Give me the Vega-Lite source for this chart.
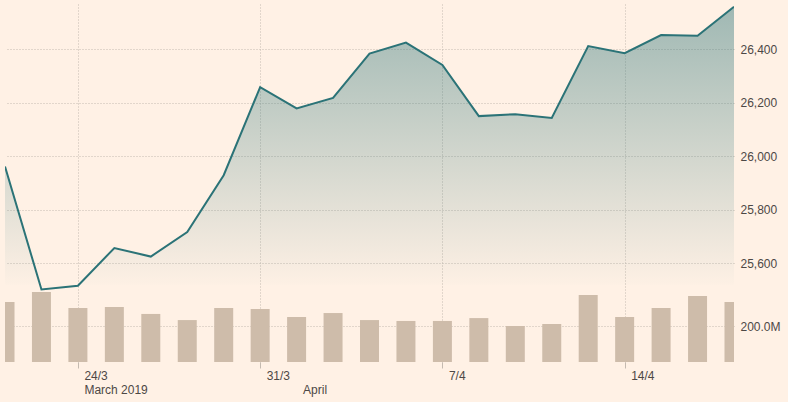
{
  "$schema": "https://vega.github.io/schema/vega-lite/v6.json",
  "width": 729,
  "height": 358,
  "autosize": {"type": "none"},
  "padding": {"left": 5, "top": 4, "right": 54, "bottom": 40},
  "background": "#fff1e5",
  "config": {
    "view": {"stroke": null},
    "axis": {
      "labelFont": "Liberation Sans",
      "labelFontSize": 12,
      "labelColor": "#4d4845",
      "gridColor": "#c4bab0",
      "gridDash": [1, 2],
      "gridWidth": 1,
      "domain": false,
      "title": null
    }
  },
  "data": {
    "values": [
      {"date": "2019-03-21", "close": 25962, "volume": 333000000},
      {"date": "2019-03-22", "close": 25502, "volume": 389000000},
      {"date": "2019-03-25", "close": 25516, "volume": 300000000},
      {"date": "2019-03-26", "close": 25657, "volume": 306000000},
      {"date": "2019-03-27", "close": 25625, "volume": 267000000},
      {"date": "2019-03-28", "close": 25717, "volume": 233000000},
      {"date": "2019-03-29", "close": 25929, "volume": 300000000},
      {"date": "2019-04-01", "close": 26258, "volume": 294000000},
      {"date": "2019-04-02", "close": 26179, "volume": 250000000},
      {"date": "2019-04-03", "close": 26218, "volume": 272000000},
      {"date": "2019-04-04", "close": 26384, "volume": 233000000},
      {"date": "2019-04-05", "close": 26425, "volume": 228000000},
      {"date": "2019-04-08", "close": 26341, "volume": 228000000},
      {"date": "2019-04-09", "close": 26150, "volume": 244000000},
      {"date": "2019-04-10", "close": 26157, "volume": 200000000},
      {"date": "2019-04-11", "close": 26143, "volume": 211000000},
      {"date": "2019-04-12", "close": 26412, "volume": 372000000},
      {"date": "2019-04-15", "close": 26385, "volume": 250000000},
      {"date": "2019-04-16", "close": 26453, "volume": 300000000},
      {"date": "2019-04-17", "close": 26450, "volume": 367000000},
      {"date": "2019-04-18", "close": 26559, "volume": 333000000}
    ]
  },
  "encoding": {
    "x": {
      "field": "date",
      "type": "ordinal",
      "scale": {"type": "point", "padding": 0},
      "axis": {
        "values": ["2019-03-25", "2019-04-01", "2019-04-02", "2019-04-08", "2019-04-15"],
        "labelExpr": "datum.value == '2019-03-25' ? ['24/3', 'March 2019'] : datum.value == '2019-04-01' ? ['31/3', ''] : datum.value == '2019-04-02' ? ['', 'April'] : datum.value == '2019-04-08' ? ['7/4', ''] : ['14/4', '']",
        "labelAngle": 0,
        "labelAlign": "left",
        "labelBaseline": "top",
        "labelOffset": 6,
        "labelPadding": 2,
        "labelLineHeight": 14,
        "labelOverlap": false,
        "ticks": true,
        "tickSize": 6,
        "tickColor": "#c4bab0",
        "tickOpacity": {"condition": {"test": "datum.value == '2019-04-02'", "value": 0}, "value": 1},
        "grid": true,
        "gridOpacity": {"condition": {"test": "datum.value == '2019-04-02'", "value": 0}, "value": 1}
      }
    }
  },
  "layer": [
    {
      "mark": {"type": "bar", "width": 19, "color": "#cebcaa", "clip": true},
      "encoding": {
        "y": {
          "field": "volume",
          "type": "quantitative",
          "scale": {"domain": [0, 1989000000], "nice": false, "zero": true},
          "axis": {
            "orient": "right",
            "values": [200000000],
            "labelExpr": "format(datum.value / 1000000, '.1f') + 'M'",
            "ticks": false,
            "labelPadding": 6,
            "grid": true
          }
        }
      }
    },
    {
      "mark": {
        "type": "area",
        "clip": true,
        "color": {
          "gradient": "linear",
          "x1": 0, "y1": 0, "x2": 0, "y2": 1,
          "stops": [
            {"offset": 0, "color": "rgba(43,115,119,0.45)"},
            {"offset": 1, "color": "rgba(43,115,119,0)"}
          ]
        }
      },
      "encoding": {
        "y": {
          "field": "close",
          "type": "quantitative",
          "scale": {"domain": [25231, 26569], "nice": false, "zero": false},
          "axis": {
            "orient": "right",
            "values": [25600, 25800, 26000, 26200, 26400],
            "format": ",.0f",
            "ticks": false,
            "labelPadding": 6,
            "grid": true
          }
        },
        "y2": {"datum": 25520}
      }
    },
    {
      "mark": {"type": "line", "color": "#2b7377", "strokeWidth": 2, "clip": true},
      "encoding": {
        "y": {
          "field": "close",
          "type": "quantitative",
          "scale": {"domain": [25231, 26569], "nice": false, "zero": false},
          "axis": null
        }
      }
    }
  ],
  "resolve": {"scale": {"y": "independent"}, "axis": {"y": "independent"}}
}
